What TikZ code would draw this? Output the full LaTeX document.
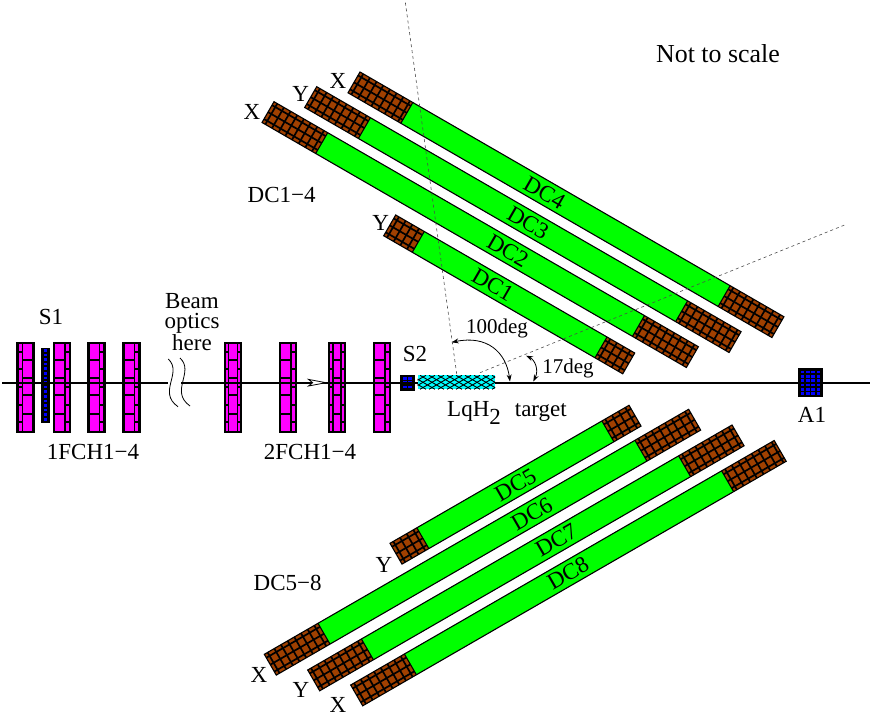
\documentclass[tikz,border=0pt]{standalone}
\usepackage{fontspec}
\setmainfont{Liberation Serif}
\usetikzlibrary{arrows.meta}
\definecolor{dcbrown}{HTML}{A04000}
\definecolor{dcgreen}{HTML}{00FF00}
\definecolor{fchpink}{HTML}{FF00FF}
\definecolor{tgtcyan}{HTML}{00FFFF}
\definecolor{sciblue}{HTML}{0000FF}
\tikzset{
    lab/.style={font=\fontsize{23}{19.5}\selectfont, inner sep=0pt},
    dclab/.style={font=\fontsize{23}{23}\selectfont, inner sep=0pt},
    anglab/.style={font=\fontsize{21}{21}\selectfont, inner sep=0pt},
    dcbox/.style={draw=black, line width=1.1pt},
    hatchline/.style={black, line width=1.7pt},
    fchbox/.style={draw=black, line width=2.7pt, fill=fchpink},
    fchline/.style={black, line width=1.2pt},
    angarrow/.style={line width=0.8pt, {Stealth[length=7pt,width=5pt]}-{Stealth[length=7pt,width=5pt]}},
    dashline/.style={dashed, line width=0.6pt, black!70}
}
% hatched end of a chamber, from local x #1, length #2
\newcommand{\dcend}[2]{
    \begin{scope}[shift={(#1,0)}]
        \fill[dcbrown] (0,0) rectangle (#2,24);
        \clip (0,0) rectangle (#2,24);
        \foreach \xx in {3.8,11.5,...,#2} {
            \draw[hatchline] (\xx,0) -- (\xx,24);
        }
        \foreach \yy in {4,12,20} {
            \draw[hatchline] (0,\yy) -- (#2,\yy);
        }
    \end{scope}
}
% x, y of the first corner, rotation, three lengths, name, label place, label
\newcommand{\chamber}[9]{
    \begin{scope}[shift={(#1,#2)}, rotate=#3]
        \pgfmathsetmacro{\endlen}{#6-#5}
        \fill[dcgreen] (#4,0) rectangle (#5,24);
        \dcend{0}{#4}
        \dcend{#5}{\endlen}
        \draw[dcbox] (0,0) rectangle (#6,24);
        \draw[dcbox] (#4,0) -- (#4,24);
        \draw[dcbox] (#5,0) -- (#5,24);
        \node[dclab, rotate=#3] (#7) at (#8,12) {#9};
    \end{scope}
}
% x, left edge and right edge of the wide column
\newcommand{\fch}[3]{
    \begin{scope}[shift={(#1,343)}]
        \draw[fchbox] (0,0) rectangle (16,89);
        \draw[fchline] (#2,0) -- (#2,89);
        \draw[fchline] (#3,0) -- (#3,89);
        \foreach \yy in {17,35,52,71} {
            \draw[fchline] (#2,\yy) -- (#3,\yy);
        }
        \foreach \yy in {9,26,44,62,79} {
            \draw[fchline] (0,\yy) -- (#2,\yy);
            \draw[fchline] (#3,\yy) -- (16,\yy);
        }
    \end{scope}
}
\begin{document}
\begin{tikzpicture}[x=1pt, y=-1pt]
    \useasboundingbox (0,0) rectangle (872,714);

    % drift chambers
    \chamber{360}{72}{-30}{61}{427.4}{489.5}{dcfour}{220}{DC4}
    \chamber{316.7}{86.7}{-30}{62}{428.3}{490}{dcthree}{251}{DC3}
    \chamber{274}{101.7}{-30}{62}{427.8}{490}{dctwo}{277}{DC2}
    \chamber{395.7}{215}{-30}{33}{244}{276}{dcone}{119}{DC1}
    \chamber{390}{543.3}{30}{31}{244.7}{276}{dcfive}{138}{DC5}
    \chamber{264.3}{654.3}{30}{62}{428}{490}{dcsix}{302}{DC6}
    \chamber{307.7}{670}{30}{62}{428.3}{490}{dcseven}{280}{DC7}
    \chamber{350.7}{685}{30}{62}{428.3}{489}{dceight}{244}{DC8}

    % dashed lines
    \coordinate (dashAa) at (456.7,374);
    \coordinate (dashAb) at (405,0);
    \coordinate (dashBa) at (480,372.7);
    \coordinate (dashBb) at (847,224);
    \draw[dashline] (dashAa) -- (dashAb);
    \draw[dashline] (dashBa) -- (dashBb);

    % wire chambers and S1
    \foreach \xx/\aa/\bb in {17.3/5/16, 54/0/11, 88.7/0/11, 123.3/0/11, 225/3.5/12.5, 280/0/11, 329/4/12, 374/0/11} {
        \fch{\xx}{\aa}{\bb}
    }
    \fill[black] (41,348) rectangle (50,423);
    \draw[sciblue, line width=2.2pt, dash pattern=on 2.6pt off 2pt] (45.5,349) -- (45.5,422);

    % A1
    \begin{scope}[shift={(799.3,369.3)}]
        \fill[sciblue] (0,0) rectangle (22,26.7);
        \foreach \xx in {5.5,11,16.5} {
            \draw[black, line width=1.6pt] (\xx,0) -- (\xx,26.7);
        }
        \foreach \yy in {4.5,9,13.4,17.8,22.2} {
            \draw[black, line width=1.6pt] (0,\yy) -- (22,\yy);
        }
        \draw[black, line width=2.8pt] (0,0) rectangle (22,26.7);
    \end{scope}
    % S2
    \begin{scope}[shift={(401.7,376)}]
        \fill[sciblue] (0,0) rectangle (11.6,13.3);
        \draw[black, line width=1.5pt] (5.8,0) -- (5.8,13.3);
        \foreach \yy in {4.5,8.8} {
            \draw[black, line width=1.5pt] (0,\yy) -- (11.6,\yy);
        }
        \draw[black, line width=2.8pt] (0,0) rectangle (11.6,13.3);
    \end{scope}

    % beam line
    \coordinate (beamA) at (2,382.7);
    \coordinate (beamB) at (168,382.7);
    \coordinate (beamC) at (181,382.7);
    \coordinate (beamD) at (870,382.7);
    \draw[black, line width=1.6pt] (beamA) -- (beamB);
    \draw[black, line width=1.6pt] (beamC) -- (beamD);
    \coordinate (beamArrA) at (300,382.7);
    \coordinate (beamArrB) at (328,382.7);
    \draw[line width=0.8pt, -{Stealth[fill=white,length=21pt,width=8pt,inset=5pt]}] (beamArrA) -- (beamArrB);

    % wiggles
    \coordinate (wigAa) at (168.3,359);
    \coordinate (wigAb) at (178,406.7);
    \coordinate (wigBa) at (180,358);
    \coordinate (wigBb) at (190,406);
    \draw[line width=0.8pt] (wigAa) .. controls (183,373) and (157,392) .. (wigAb);
    \draw[line width=0.8pt] (wigBa) .. controls (195,372) and (169,391) .. (wigBb);

    % target
    \fill[tgtcyan] (417.7,375.3) rectangle (495,389.3);
    \begin{scope}
        \clip (417.7,375.3) rectangle (495,389.3);
        \foreach \xx in {393,402,...,500} {
            \draw[black, line width=0.9pt] (\xx,375.3) -- ++(24,14);
            \draw[black, line width=0.9pt] (\xx,389.3) -- ++(24,-14);
        }
    \end{scope}

    % angles
    \coordinate (angAa) at (451.7,342.3);
    \coordinate (angAb) at (510,381.5);
    \coordinate (angBa) at (526,355.7);
    \coordinate (angBb) at (533.3,381.5);
    \draw[angarrow] (angAa) .. controls (487,335) and (506,352) .. (angAb);
    \draw[angarrow] (angBa) .. controls (535,360) and (539,370) .. (angBb);

    % labels
    \node[lab, font=\fontsize{25.9}{25.9}\selectfont] (scale) at (718,54) {Not to scale};
    \node[lab] (sone) at (51,317) {S1};
    \node[lab, align=center] (optics) at (192,322) {Beam\\optics\\here};
    \node[lab] (fchone) at (93,452) {1FCH1−4};
    \node[lab] (fchtwo) at (310,452) {2FCH1−4};
    \node[lab] (stwo) at (415,354) {S2};
    \node[anglab] (bigang) at (497,328) {100deg};
    \node[anglab] (smallang) at (568,368) {17deg};
    \node[lab, anchor=base west] (target) at (447,416.7) {LqH\raisebox{-8pt}{2}\hspace{14pt}target};
    \node[lab] (aone) at (812,415) {A1};
    \node[lab] (dcupper) at (281.7,195) {DC1−4};
    \node[lab] (dclower) at (287.7,583) {DC5−8};
    \node[lab] (xa) at (338,81) {X};
    \node[lab] (ya) at (300.7,94) {Y};
    \node[lab] (xb) at (252,112) {X};
    \node[lab] (yb) at (380.7,222.7) {Y};
    \node[lab] (yc) at (384,565) {Y};
    \node[lab] (xc) at (259,675) {X};
    \node[lab] (yd) at (301,690) {Y};
    \node[lab] (xd) at (338,705) {X};
\end{tikzpicture}
\end{document}
